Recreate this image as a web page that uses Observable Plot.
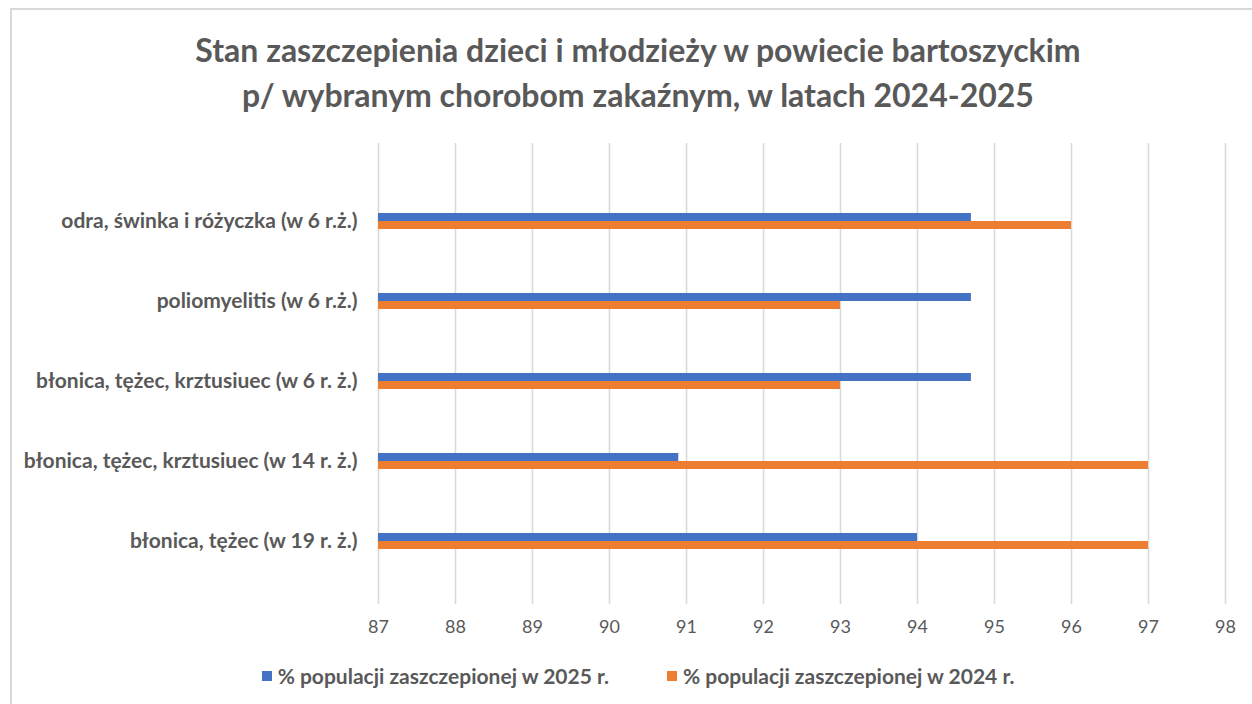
<!DOCTYPE html>
<html>
<head>
<meta charset="utf-8">
<script src="https://cdn.jsdelivr.net/npm/d3@7"></script>
<script src="https://cdn.jsdelivr.net/npm/@observablehq/plot@0.6"></script>
<style>
  body { margin: 0; background: #fff; font-family: Lato, "Open Sans", sans-serif; }
  #frame { position: absolute; left: 10px; top: 8px; width: 1260px; height: 720px; border: 2px solid #d9d9d9; box-sizing: border-box; }
  #title { position: absolute; left: 0; top: 27px; width: 1276px; text-align: center; color: #595959; font-weight: bold; font-size: 32px; line-height: 45px; }
  #chart { position: absolute; left: 0; top: 130px; }
  #legend { position: absolute; left: 0; top: 662px; width: 1276px; display: flex; justify-content: center; gap: 58px; color: #595959; font-weight: bold; font-size: 21px; line-height: 28px; }
  .item { display: flex; align-items: center; gap: 6px; }
  .sw { width: 10px; height: 10px; display: inline-block; }
</style>
</head>
<body>
<div id="frame"></div>
<div id="title">Stan zaszczepienia dzieci i młodzieży w powiecie bartoszyckim<br>p/ wybranym chorobom zakaźnym, w latach 2024-2025</div>
<div id="chart"></div>
<div id="legend"></div>
<script>
const categories = [
  "odra, świnka i różyczka (w 6 r.ż.)",
  "poliomyelitis (w 6 r.ż.)",
  "błonica, tężec, krztusiuec (w 6 r. ż.)",
  "błonica, tężec, krztusiuec (w 14 r. ż.)",
  "błonica, tężec (w 19 r. ż.)"
];
const values2025 = [94.7, 94.7, 94.7, 90.9, 94.0];
const values2024 = [96.0, 93.0, 93.0, 97.0, 97.0];
const seriesNames = ["% populacji zaszczepionej w 2025 r.", "% populacji zaszczepionej w 2024 r."];
const xTicks = [87, 88, 89, 90, 91, 92, 93, 94, 95, 96, 97, 98];

const seriesColors = ["#4472C4", "#ED7D31"];
const xDomain = [xTicks[0], xTicks[xTicks.length - 1]];

const rows2025 = categories.map((c, i) => ({category: c, series: seriesNames[0], value: values2025[i]}));
const rows2024 = categories.map((c, i) => ({category: c, series: seriesNames[1], value: values2024[i]}));

const plot = Plot.plot({
  width: 1252,
  height: 530,
  marginLeft: 378,
  marginRight: 27,
  marginTop: 13,
  marginBottom: 56,
  style: {fontFamily: "Lato, 'Open Sans', sans-serif", color: "#595959", background: "transparent"},
  x: {domain: xDomain},
  y: {domain: categories, range: [49.875, 451.125], paddingInner: 0.8, paddingOuter: 0.4},
  marks: [
    Plot.gridX(xTicks, {stroke: "#d9d9d9", strokeOpacity: 1, strokeWidth: 1.6}),
    Plot.barX(rows2025, {y: "category", x1: xDomain[0], x2: "value", fill: seriesColors[0], insetBottom: 8}),
    Plot.barX(rows2024, {y: "category", x1: xDomain[0], x2: "value", fill: seriesColors[1], insetTop: 8}),
    Plot.axisX({ticks: xTicks, tickSize: 0, tickPadding: 16, fontSize: 18, fill: "#595959", label: null}),
    Plot.axisY({tickSize: 0, tickPadding: 21, fontSize: 21, fontWeight: "bold", fill: "#595959", label: null})
  ]
});
document.getElementById("chart").appendChild(plot);

const legend = document.getElementById("legend");
seriesNames.forEach((name, i) => {
  const item = document.createElement("div");
  item.className = "item";
  const sw = document.createElement("span");
  sw.className = "sw";
  sw.style.background = seriesColors[i];
  const label = document.createElement("span");
  label.textContent = name;
  item.appendChild(sw);
  item.appendChild(label);
  legend.appendChild(item);
});
</script>
</body>
</html>
